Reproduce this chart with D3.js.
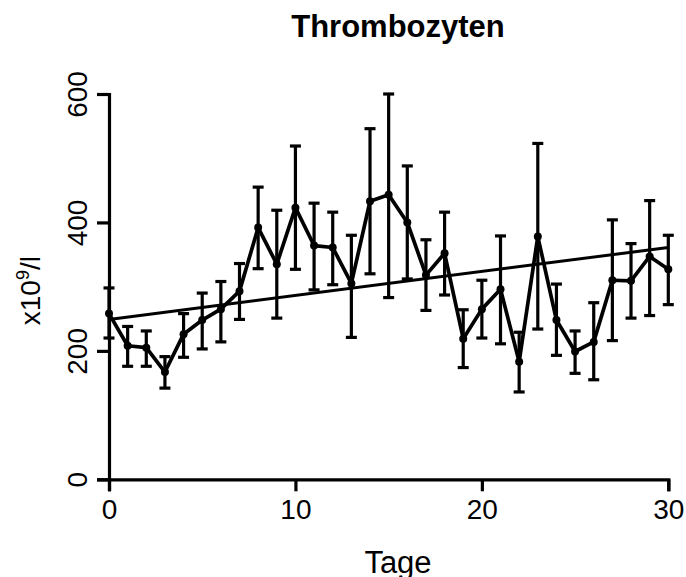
<!DOCTYPE html>
<html>
<head>
<meta charset="utf-8">
<script src="https://cdn.jsdelivr.net/npm/d3@7"></script>
<style>
  html, body { margin: 0; padding: 0; background: #fff; }
  svg { display: block; font-family: "Liberation Sans", Arial, sans-serif; }
</style>
</head>
<body>
<svg id="chart" width="686" height="577"></svg>
<script>
const days  = [0,1,2,3,4,5,6,7,8,9,10,11,12,13,14,15,16,17,18,19,20,21,22,23,24,25,26,27,28,29,30];
const mean  = [258,208,205,167,226,248,265,293,392,335,423,364,361,305,433,443,400,318,352,219,265,296,183,378,248,199,214,310,309,347,327];
const upper = [298,238,231,191,258,290,308,336,455,419,519,430,416,380,546,600,488,373,416,264,310,379,229,523,304,231,275,404,367,434,380];
const lower = [220,176,176,142,190,203,214,249,328,251,327,295,303,221,320,283,312,263,287,174,220,211,136,234,193,165,155,216,251,255,272];
const fitX  = [0,30];
const fitY  = [249,361];
const xTicks = [0,10,20,30];
const yTicks = [0,200,400,600];
const titleText = "Thrombozyten";
const xLabel = "Tage";

const svg = d3.select("#chart");
const x = d3.scaleLinear().domain([0,30]).range([109,668.3]);
const y = d3.scaleLinear().domain([0,600]).range([479.3,94]);

const black = "#000";
const lw = 3.2;

// title
svg.append("text").attr("x",398).attr("y",37).attr("text-anchor","middle")
  .attr("font-size",31).attr("font-weight","bold").attr("fill",black).text(titleText);

// x axis
const xAxis = svg.append("g").attr("transform",`translate(0,${y(0)})`)
  .call(d3.axisBottom(x).tickValues(xTicks).tickSize(12).tickSizeOuter(12).tickPadding(8).tickFormat(d3.format("d")));
xAxis.select(".domain").attr("stroke",black).attr("stroke-width",lw);
xAxis.selectAll(".tick line").attr("stroke",black).attr("stroke-width",lw);
xAxis.selectAll(".tick text").attr("font-size",28).attr("fill",black).attr("dy","0.71em");

// y axis
const yAxis = svg.append("g").attr("transform",`translate(${x(0)},0)`)
  .call(d3.axisLeft(y).tickValues(yTicks).tickSize(12).tickSizeOuter(12).tickFormat(d3.format("d")));
yAxis.select(".domain").attr("stroke",black).attr("stroke-width",lw);
yAxis.selectAll(".tick line").attr("stroke",black).attr("stroke-width",lw);
yAxis.selectAll(".tick text").attr("font-size",28).attr("fill",black)
  .attr("transform","rotate(-90)").attr("x",0).attr("y",-22.5).attr("dy",0)
  .attr("text-anchor","middle");
svg.selectAll(".domain").attr("fill","none");
svg.selectAll(".tick text").attr("font-family","Liberation Sans, Arial, sans-serif");

// axis titles
svg.append("text").attr("x",398).attr("y",573).attr("text-anchor","middle")
  .attr("font-size",31).attr("fill",black).text(xLabel);

const yl = svg.append("text").attr("transform",`translate(40,${(y(0)+y(600))/2 + 4}) rotate(-90)`)
  .attr("text-anchor","middle").attr("font-size",28).attr("fill",black);
yl.append("tspan").text("x10");
yl.append("tspan").attr("font-size",18).attr("dy",-11).text("9");
yl.append("tspan").attr("dy",11).text("/l");

// regression line
svg.append("line").attr("x1",x(fitX[0])).attr("y1",y(fitY[0]))
  .attr("x2",x(fitX[1])).attr("y2",y(fitY[1]))
  .attr("stroke",black).attr("stroke-width",3);

// error bars
const capW = 5.5;
const eb = svg.append("g").attr("stroke",black).attr("stroke-width",lw);
days.forEach((d,i) => {
  eb.append("line").attr("x1",x(d)).attr("x2",x(d)).attr("y1",y(lower[i])).attr("y2",y(upper[i]));
  eb.append("line").attr("x1",x(d)-capW).attr("x2",x(d)+capW).attr("y1",y(upper[i])).attr("y2",y(upper[i]));
  eb.append("line").attr("x1",x(d)-capW).attr("x2",x(d)+capW).attr("y1",y(lower[i])).attr("y2",y(lower[i]));
});

// mean line
const line = d3.line().x((d,i)=>x(days[i])).y(d=>y(d));
svg.append("path").datum(mean).attr("d",line).attr("fill","none")
  .attr("stroke",black).attr("stroke-width",3.7).attr("stroke-linejoin","round");

// markers
svg.append("g").selectAll("circle").data(mean).join("circle")
  .attr("cx",(d,i)=>x(days[i])).attr("cy",d=>y(d)).attr("r",4).attr("fill",black);
</script>
</body>
</html>
